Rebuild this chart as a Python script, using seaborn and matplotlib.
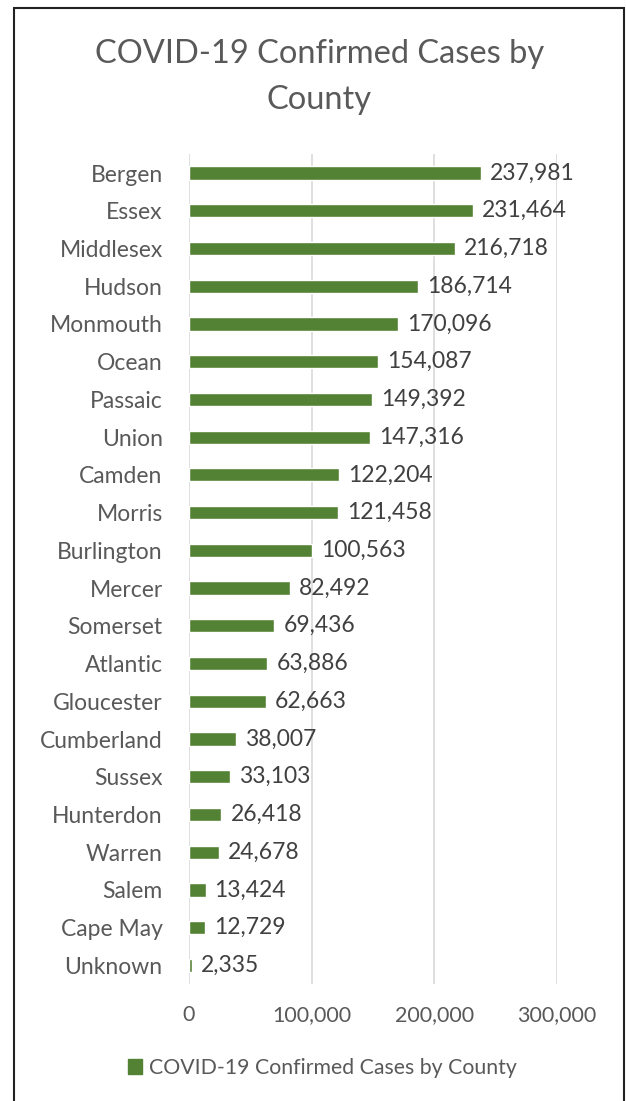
import matplotlib
matplotlib.use("Agg")
import matplotlib.pyplot as plt
import seaborn as sns
import pandas as pd
from matplotlib.patches import Rectangle, Patch
from matplotlib.ticker import FuncFormatter

counties = ["Bergen", "Essex", "Middlesex", "Hudson", "Monmouth", "Ocean", "Passaic",
            "Union", "Camden", "Morris", "Burlington", "Mercer", "Somerset", "Atlantic",
            "Gloucester", "Cumberland", "Sussex", "Hunterdon", "Warren", "Salem",
            "Cape May", "Unknown"]
cases = [237981, 231464, 216718, 186714, 170096, 154087, 149392, 147316, 122204,
         121458, 100563, 82492, 69436, 63886, 62663, 38007, 33103, 26418, 24678,
         13424, 12729, 2335]
series_name = "COVID-19 Confirmed Cases by County"
title = "COVID-19 Confirmed Cases by\nCounty"

sns.set_theme(style="white")
plt.rcParams['font.family'] = ['Lato', 'DejaVu Sans']

BAR = "#548235"
TXT = "#595959"

df = pd.DataFrame({"County": counties, "Cases": cases})

fig = plt.figure(figsize=(6.26, 11.01), dpi=100)
ax = fig.add_axes([0.302, 0.106, 0.588, 0.754])

sns.barplot(data=df, y="County", x="Cases", orient="h", color=BAR, width=0.35,
            saturation=1, ax=ax)

ax.set_xlim(0, 300000)
ax.set_xticks([0, 100000, 200000, 300000])
ax.xaxis.set_major_formatter(FuncFormatter(lambda v, p: f"{v:,.0f}"))
ax.grid(axis="x", color="#d9d9d9", linewidth=1.2)
ax.set_axisbelow(True)
for s in ax.spines.values():
    s.set_visible(False)
ax.set_xlabel("")
ax.set_ylabel("")
ax.tick_params(axis="x", labelsize=15.5, colors=TXT, length=0, pad=15)
ax.tick_params(axis="y", labelsize=16.5, colors=TXT, length=0, pad=19)

for c in ax.containers:
    ax.bar_label(c, labels=[f"{v:,.0f}" for v in cases], padding=6.5,
                 fontsize=16.5, color="#404040")

fig.text(0.51, 0.930, title, ha="center", va="center", fontsize=23.5,
         color=TXT, linespacing=1.7)

fig.legend(handles=[Patch(facecolor=BAR, edgecolor=BAR)], labels=[series_name],
           loc="center", bbox_to_anchor=(0.515, 0.030), frameon=False,
           fontsize=15.3, handlelength=0.65, handleheight=0.65, handletextpad=0.3,
           labelcolor=TXT)

fig.patches.append(Rectangle((0.023, -0.01), 0.974, 1.003, transform=fig.transFigure,
                             fill=False, edgecolor="#222222", linewidth=1.5))

fig.savefig("out.png", dpi=100, facecolor="white")
